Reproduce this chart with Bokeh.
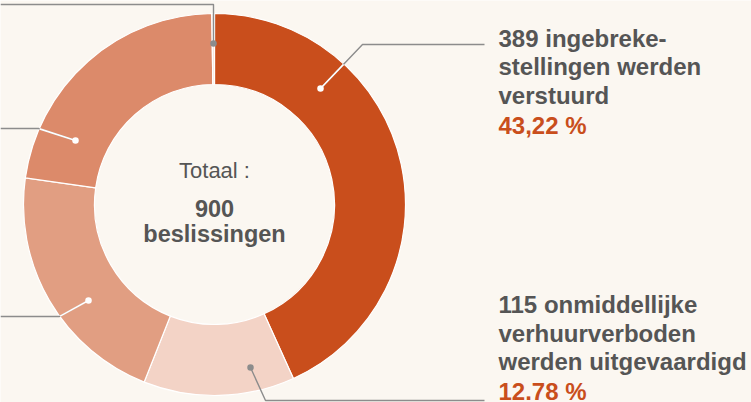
import math
from bokeh.plotting import figure
from bokeh.models import Range1d
from bokeh.embed import file_html
from bokeh.resources import INLINE
from bokeh.core.properties import value

# ---------------- data ----------------
categories = ["ingebrekestellingen", "onmiddellijke verhuurverboden",
              "categorie 3", "categorie 4", "categorie 5"]
counts = [389, 115, 191, 203, 2]
slice_colors = ["#C94E1C", "#F3D3C6", "#E19E82", "#DC8A6A", "#F7E4DA"]

right_label_lines = [
    ["389 ingebreke-", "stellingen werden", "verstuurd"],
    ["115 onmiddellijke", "verhuurverboden", "werden uitgevaardigd"],
]
right_label_pct = ["43,22 %", "12.78 %"]
center_title = "Totaal :"
center_unit = "beslissingen"

# ---------------- layout / style ----------------
BG = "#FBF7F1"
TEXT = "#555555"
ORANGE = "#C94E1C"
GREY = "#8C8C8C"
FONT = "Liberation Sans"

W, H = 751, 402
CX, CY = 214, 204         # donut centre in chart pixel coords (y down)
R_OUT, R_IN = 191, 120
TEXT_SHIFT = -9           # correction for Bokeh's baseline placement

# connector annotations (chart pixel coords, y down): dot -> elbow -> end
connectors = [
    dict(dot=(320, 88), elbow=(362, 44), end=(484, 44), inner="white"),
    dict(dot=(250, 367), elbow=(265, 400), end=(484, 400), inner=GREY),
    dict(dot=(88, 300), elbow=(59, 316), end=(0, 316), inner="white"),
    dict(dot=(75, 140), elbow=(38, 128), end=(0, 128), inner="white"),
    dict(dot=(213, 43), elbow=(213, 4), end=(0, 4), inner=GREY),
]
right_label_x = 498
right_label_baselines = [[46.7, 75, 103.5, 133.5], [313.3, 341.6, 370.2, 400.3]]
center_baselines = [179, 216.7, 242]

p = figure(width=W, height=H, output_backend="svg", toolbar_location=None,
           x_range=Range1d(0, W), y_range=Range1d(-H, 0),
           min_border=0, background_fill_color=BG, border_fill_color=BG)
p.axis.visible = False
p.grid.visible = False
p.outline_line_color = None

# ---------------- donut ----------------
total = sum(counts)
starts, ends = [], []
cum = 0
for c in counts:
    starts.append(math.pi / 2 - 2 * math.pi * cum / total)
    cum += c
    ends.append(math.pi / 2 - 2 * math.pi * cum / total)

p.annular_wedge(x=CX, y=-CY, inner_radius=R_IN, outer_radius=R_OUT,
                start_angle=starts, end_angle=ends, direction="clock",
                fill_color=slice_colors, line_color="white", line_width=1.2)


def clip_point(p0, p1, R):
    """point where segment p0->p1 leaves the circle of radius R"""
    x0, y0 = p0[0] - CX, p0[1] - CY
    dx, dy = p1[0] - p0[0], p1[1] - p0[1]
    a = dx * dx + dy * dy
    b = 2 * (x0 * dx + y0 * dy)
    c = x0 * x0 + y0 * y0 - R * R
    disc = b * b - 4 * a * c
    if disc < 0:
        return p1
    t = (-b + math.sqrt(disc)) / (2 * a)
    t = max(0.0, min(1.0, t))
    return (p0[0] + t * dx, p0[1] + t * dy)


for con in connectors:
    pts = [con["dot"], con["elbow"], con["end"]]
    p.line([q[0] for q in pts], [-q[1] for q in pts], line_color=GREY, line_width=1.4)
for con in connectors:
    if con["inner"] == "white":
        q = clip_point(con["dot"], con["elbow"], R_OUT - 0.5)
        p.line([con["dot"][0], q[0]], [-con["dot"][1], -q[1]],
               line_color="white", line_width=1.6)
    p.scatter([con["dot"][0]], [-con["dot"][1]], size=6.5, marker="circle",
              fill_color=con["inner"], line_color=None)


def ty(b):
    return -(b + TEXT_SHIFT)


# ---------------- centre text ----------------
p.text(x=[CX], y=[ty(center_baselines[0])], text=[center_title], text_align="center",
       text_baseline="alphabetic", text_font=value(FONT), text_font_size="22px",
       text_color=TEXT)
p.text(x=[CX, CX], y=[ty(center_baselines[1]), ty(center_baselines[2])],
       text=[str(total), center_unit],
       text_align="center", text_baseline="alphabetic", text_font=value(FONT),
       text_font_size="23.5px", text_font_style="bold", text_color=TEXT)

# ---------------- right labels ----------------
for lines, pct, bls in zip(right_label_lines, right_label_pct, right_label_baselines):
    p.text(x=[right_label_x] * len(lines), y=[ty(b) for b in bls[:len(lines)]], text=lines,
           text_align="left", text_baseline="alphabetic", text_font=value(FONT),
           text_font_size="24px", text_font_style="bold", text_color=TEXT)
    p.text(x=[right_label_x], y=[ty(bls[-1])], text=[pct],
           text_align="left", text_baseline="alphabetic", text_font=value(FONT),
           text_font_size="24px", text_font_style="bold", text_color=ORANGE)

open("out.html", "w").write(file_html(p, INLINE))
